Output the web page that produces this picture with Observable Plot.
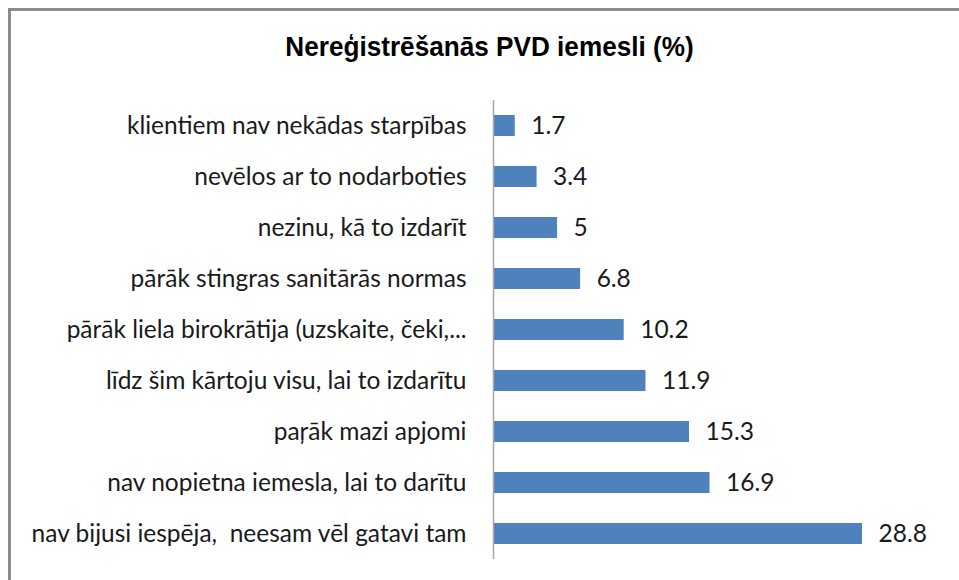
<!DOCTYPE html>
<html><head><meta charset="utf-8">
<script src="https://cdn.jsdelivr.net/npm/d3@7"></script>
<script src="https://cdn.jsdelivr.net/npm/@observablehq/plot@0.6"></script>
<style>
body{margin:0;background:#fff}
#wrap{position:relative;width:959px;height:580px;overflow:hidden;background:#fff}
#frame{position:absolute;left:8px;top:8px;width:980px;height:600px;border-top:3px solid #8c8c8c;border-left:3px solid #8c8c8c}
#title{position:absolute;left:0;width:979px;top:33px;text-align:center;font-family:"Liberation Sans Narrow","Arial Narrow","Liberation Sans",sans-serif;font-weight:bold;font-size:28px;line-height:28px;color:#000;transform:scaleX(0.934);transform-origin:489.5px 0}
#chart{position:absolute;left:0;top:0}
</style></head>
<body>
<div id="wrap">
  <div id="frame"></div>
  <div id="title">Nereģistrēšanās PVD iemesli (%)</div>
  <div id="chart"></div>
</div>
<script>
const categories = [
  "klientiem nav nekādas starpības",
  "nevēlos ar to nodarboties",
  "nezinu, kā to izdarīt",
  "pārāk stingras sanitārās normas",
  "pārāk liela birokrātija (uzskaite, čeki,...",
  "līdz šim kārtoju visu, lai to izdarītu",
  "paŗāk mazi apjomi",
  "nav nopietna iemesla, lai to darītu",
  "nav bijusi iespēja,  neesam vēl gatavi tam"
];
const values = [1.7, 3.4, 5, 6.8, 10.2, 11.9, 15.3, 16.9, 28.8];
const valueLabels = ["1.7", "3.4", "5", "6.8", "10.2", "11.9", "15.3", "16.9", "28.8"];

const data = categories.map((c, i) => ({label: c, value: values[i], text: valueLabels[i]}));

const chart = Plot.plot({
  width: 959, height: 580,
  marginLeft: 493, marginRight: 97, marginTop: 100, marginBottom: 21,
  x: {domain: [0, 28.8], axis: null},
  y: {domain: categories, paddingInner: 0.59, paddingOuter: 0.295, axis: null},
  style: {fontFamily: "Lato, sans-serif", color: "#1a1a1a", background: "transparent", overflow: "visible"},
  marks: [
    Plot.barX(data, {x: "value", y: "label", fill: "#4F81BD"}),
    Plot.ruleX([0], {stroke: "#a6a6a6", strokeWidth: 1.5}),
    Plot.axisY({tickSize: 0, tickPadding: 27, fontSize: 24.5, label: null}),
    Plot.text(data, {x: "value", y: "label", text: "text", dx: 16, textAnchor: "start", fontSize: 24.5, fill: "#1a1a1a"})
  ]
});
document.getElementById("chart").appendChild(chart);
</script>
</body></html>
